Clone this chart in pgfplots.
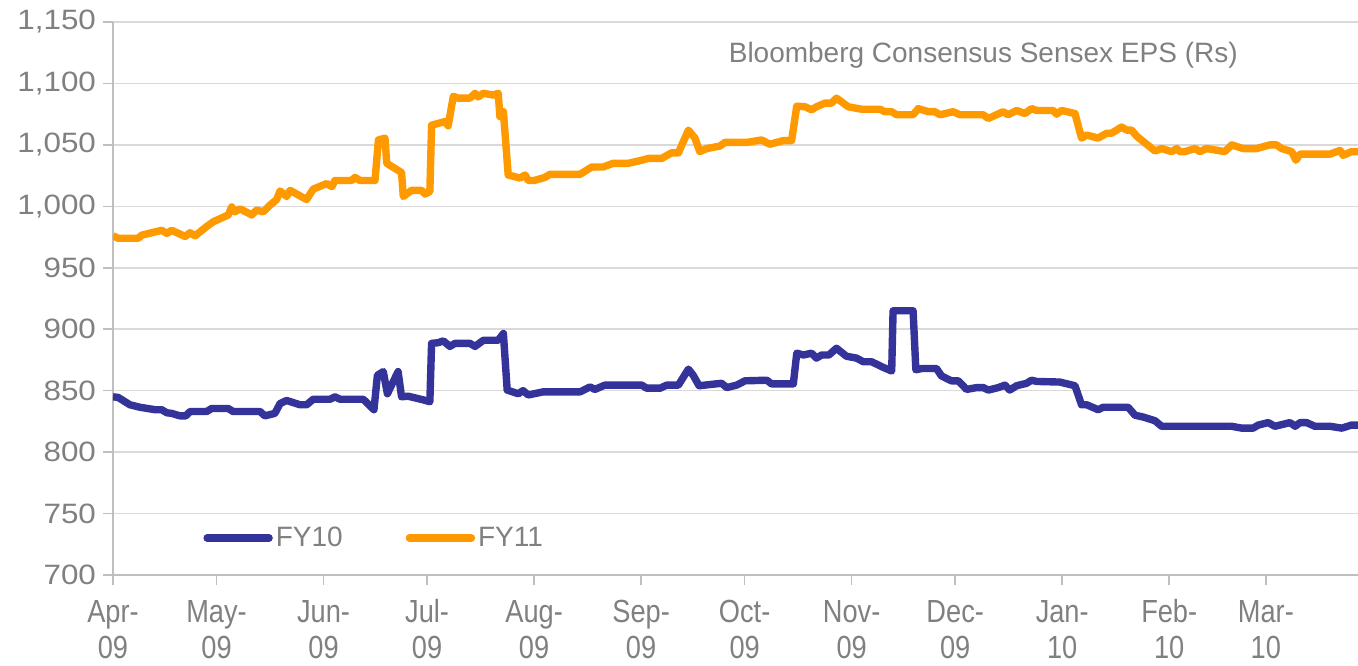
\documentclass[border=0pt]{standalone}
\usepackage{fontspec}
\setmainfont{Liberation Sans}
\newfontfamily\narrowfont[FakeStretch=0.85]{Liberation Sans}
\newfontfamily\widefont[FakeStretch=1.12]{Liberation Sans}
\usepackage{pgfplots}
\pgfplotsset{compat=1.18}

\definecolor{fyblue}{HTML}{333399}
\definecolor{fyorange}{HTML}{FF9900}
\definecolor{txtgray}{HTML}{808080}
\definecolor{axgray}{HTML}{BFBFBF}
\definecolor{gridgray}{HTML}{D9D9D9}

% two-line month label with a fixed first-line height
\newcommand\mlab[2]{\rule{0pt}{13pt}#1\\#2}

\begin{document}
\begin{tikzpicture}
\begin{axis}[
    name=ax,
    scale only axis,
    width=622.5pt, height=276.5pt,
    xmin=0, xmax=360.7,
    ymin=700, ymax=1150,
    axis x line*=bottom, axis y line*=left,
    axis line style={axgray, line width=1pt, -},
    ytick={700,750,...,1150},
    xtick={0,30,61,91,122,153,183,214,244,275,306,334},
    xticklabels={{\mlab{Apr-}{09}},{\mlab{May-}{09}},{\mlab{Jun-}{09}},{\mlab{Jul-}{09}},
                 {\mlab{Aug-}{09}},{\mlab{Sep-}{09}},{\mlab{Oct-}{09}},{\mlab{Nov-}{09}},
                 {\mlab{Dec-}{09}},{\mlab{Jan-}{10}},{\mlab{Feb-}{10}},{\mlab{Mar-}{10}}},
    xticklabel style={align=center, font=\narrowfont\fontsize{16}{18}\selectfont,
        text=txtgray, anchor=north, yshift=-2pt},
    yticklabel style={font=\widefont\fontsize{14}{16}\selectfont, text=txtgray},
    /pgf/number format/assume math mode=true,
    /pgf/number format/1000 sep={,},
    tick align=outside,
    major tick length=5pt,
    tick style={axgray, line width=0.8pt},
    ymajorgrids,
    grid style={gridgray, line width=0.8pt},
    legend columns=2,
    legend style={draw=none, fill=none, at={(0.0723,0.0669)}, anchor=west,
        font=\fontsize{14}{16}\selectfont, text=txtgray, inner sep=0pt,
        nodes={inner sep=1.5pt},
        /tikz/every even column/.append style={column sep=30pt}},
    legend image code/.code={\draw[#1, line cap=round] (0pt,0pt) -- (31pt,0pt);},
]

% FY10 consensus EPS
\addplot[color=fyblue, line width=3.7pt, line join=round] coordinates {
(0,845) (1.5,844.5) (4.9,838.5) (7.8,836.5) (12.2,834.5) (14.1,834.5) (15.6,832)
(17,831.5) (19.4,829.5) (21.1,829.5) (22.3,833) (27.1,833) (28.6,835.5) (33.4,835.5)
(34.8,833) (42.6,833) (44,829.5) (46.9,831.5) (48.4,839.5) (50.3,842) (54.2,838.5)
(56.1,838.5) (58,843) (62.9,843) (64.3,845) (65.8,843) (72.5,843) (75.6,834.5)
(76.6,862.5) (78.3,865.5) (79.5,847.5) (82.6,865.5) (83.6,845) (85.5,845.5) (89.9,842.5)
(91.8,841) (92.3,888.5) (94.2,889) (95.7,890.5) (97.6,886) (99.1,888.5) (103.4,888.5)
(104.9,886) (107.3,891) (111.6,891) (113.1,896.5) (114.2,850.5) (117.4,847.5) (118.8,850)
(120.3,846.5) (124.6,849) (135.3,849) (138.2,853) (139.6,851) (142.5,854.5) (153.2,854.5)
(154.6,852) (158.5,852) (160.4,854.5) (163.8,854.5) (166.7,867.5) (168.1,862.5) (169.8,854)
(176.3,856) (177.8,852.5) (180.7,854.5) (183.1,858) (189.4,858.5) (190.8,855.5) (197.1,855.5)
(198.1,880.5) (200,879) (202.4,880.5) (203.8,876.5) (205.3,879) (207.4,879) (209.6,884.5)
(212.5,878) (215.4,876.5) (217.4,873.5) (219.8,873.5) (223.1,869) (225.6,866) (226,915)
(231.8,915) (232.6,867) (234.3,868) (238.6,868) (240,862) (242.9,858) (244.9,858)
(247.3,851) (250.2,852.5) (252.1,852.5) (253.6,850.5) (256.5,852.5) (258.4,854.5) (259.8,850.5)
(261.8,854) (264.7,856) (266.1,858.5) (267.6,857.5) (274.3,857) (278.7,854) (280.6,838.5)
(282.1,838.5) (285.4,834.5) (286.9,836.5) (294.1,836.5) (296.1,830) (298.5,828.5) (301.9,825.5)
(303.8,821) (324.1,821) (327,819.5) (330.3,819.5) (331.8,822) (334.7,824) (336.6,821)
(341,824) (342.5,821) (343.9,824) (345.8,824) (348.2,821) (352.6,821) (356,819.5)
(358.8,822) (360.7,822)
};
\addlegendentry{FY10}

% FY11 consensus EPS
\addplot[color=fyorange, line width=3.7pt, line join=round] coordinates {
(0,976) (1.5,974) (7.3,974) (8.3,976.5) (14.1,980.5) (15.6,978) (17,980.5) (20.9,975.5)
(22.3,978.5) (23.8,976) (27.1,983.5) (29.1,987.5) (33.4,993) (34.4,999.5) (35.3,995.5)
(36.8,998) (40.2,993) (41.6,997) (43.5,995.5) (45.5,1001) (47.4,1005.5) (48.4,1012.5)
(50.3,1008) (51.3,1013) (56.1,1005.5) (58,1014) (61.9,1018.5) (63.4,1016) (64.3,1021)
(69.1,1021) (70.1,1023.5) (71.6,1021) (75.9,1021) (76.9,1054) (78.8,1055.5) (79.3,1035)
(83.6,1027.5) (84.1,1008) (86.5,1013) (89.4,1013) (90.4,1010) (91.8,1012) (92.3,1066)
(96.2,1069) (97.1,1065.5) (98.6,1089.5) (100,1088) (103.4,1088) (104.9,1092) (105.8,1089)
(107.3,1092) (110.2,1090.5) (111.6,1092) (112.1,1073) (113.1,1077) (114.5,1025.5) (117.9,1023)
(119.4,1025.5) (120.3,1021) (122,1021) (125.1,1023.5) (126.6,1026) (135.3,1026) (138.7,1032)
(142,1032) (144.9,1035) (149.3,1035) (153.2,1037.5) (155.1,1039) (159,1039) (161.8,1043.5)
(163.8,1043.5) (166.7,1062) (168.6,1055.5) (170,1044.5) (172,1047) (175.8,1049) (177.3,1052)
(183.6,1052) (187.9,1054) (190.3,1050.5) (194.2,1053.5) (196.6,1053.5) (198.1,1081.5)
(200.5,1081) (202.4,1078.5) (203.8,1081) (206.3,1084) (208.2,1084) (209.6,1088) (211.1,1085)
(213,1081) (216.9,1079) (222.2,1079) (223.6,1077) (225.6,1077) (227,1074.5) (231.8,1074.5)
(233.3,1079.5) (236.2,1077) (238.1,1077) (239.6,1074.5) (243.4,1077) (245.4,1074.5)
(252.1,1074.5) (253.6,1071.5) (257.9,1077) (259.3,1074.5) (261.8,1078) (264.2,1075.5)
(266.1,1079.5) (267.6,1078) (272.4,1078) (273.4,1075) (274.8,1078) (278.7,1075.5)
(280.6,1055.5) (282.1,1058) (285.4,1055.5) (287.9,1059.5) (289.3,1059.5) (292.2,1064.5)
(293.7,1062) (295.1,1062) (296.6,1057) (301.9,1045) (303.8,1047) (306.7,1044.5) (308.2,1047)
(309.1,1044.5) (310.5,1044.5) (313.5,1047) (314.9,1044.5) (316.8,1047) (322.1,1044.5)
(324.1,1050) (327.4,1047) (331.3,1047) (335.2,1050) (337.1,1050) (338.6,1047) (341.5,1044.5)
(342.7,1037.5) (343.9,1042.5) (352.6,1042.5) (355.5,1045.5) (356.4,1041.5) (358.8,1044.5)
(360.7,1044.5)
};
\addlegendentry{FY11}

\node[font=\fontsize{14}{16}\selectfont, text=txtgray] at (rel axis cs:0.699,0.940)
  {Bloomberg Consensus Sensex EPS (Rs)};
\end{axis}
\pgfresetboundingbox
\path[use as bounding box] ([shift={(-56.5pt,-45.5pt)}]ax.south west)
  rectangle ([shift={(0pt,11pt)}]ax.north east);
\end{tikzpicture}
\end{document}
